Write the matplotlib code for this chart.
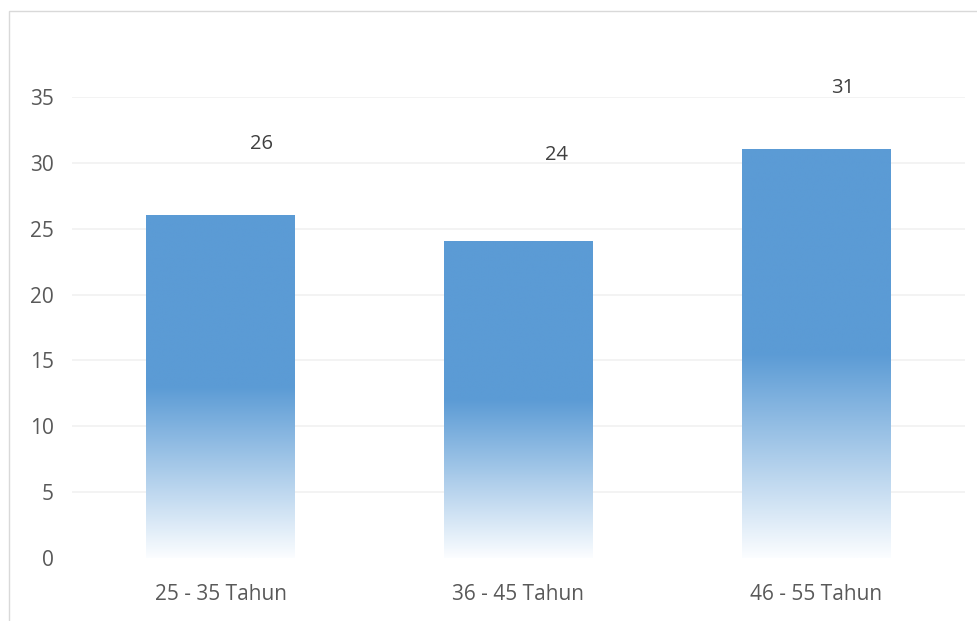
import numpy as np
import matplotlib.pyplot as plt
from matplotlib.colors import LinearSegmentedColormap
from matplotlib.patches import Rectangle

categories = ['25 - 35 Tahun', '36 - 45 Tahun', '46 - 55 Tahun']
values = [26, 24, 31]
yticks = [0, 5, 10, 15, 20, 25, 30, 35]
# Excel placed the value labels a bit off the bars: (dx in category units, y in data units)
label_pos = [(0.135, 31.4), (0.128, 30.6), (0.09, 35.7)]

bar_color = '#5B9BD5'
text_color = '#595959'
plt.rcParams['font.family'] = ['Open Sans', 'DejaVu Sans']

W, H = 978, 621
fig = plt.figure(figsize=(W / 100, H / 100), dpi=100)
ax = fig.add_axes([72 / W, (H - 558) / H, (965 - 72) / W, (558 - 97) / H])

# gradient: white at bottom, solid from half the bar height upward
cmap = LinearSegmentedColormap.from_list('fade', ['#FBFDFF', bar_color])
grad = np.clip(np.linspace(0, 2, 256), 0, 1).reshape(-1, 1)
width = 0.5
for i, v in enumerate(values):
    ax.imshow(grad, cmap=cmap, origin='lower', aspect='auto', interpolation='bilinear',
              extent=[i - width / 2, i + width / 2, 0, v], zorder=2)
    dx, ly = label_pos[i]
    ax.text(i + dx, ly, str(v), ha='center', va='center', fontsize=14.5,
            color='#404040', clip_on=False)

ax.set_xlim(-0.5, len(values) - 0.5)
ax.set_ylim(0, 35)
ax.set_yticks(yticks)
ax.set_xticks(range(len(categories)))
ax.set_xticklabels(categories)
ax.grid(axis='y', color='#F2F2F2', linewidth=1.3, zorder=0)
ax.yaxis.get_gridlines()[0].set_visible(False)
ax.set_axisbelow(True)
for s in ax.spines.values():
    s.set_visible(False)
ax.tick_params(axis='both', length=0, labelsize=15, labelcolor=text_color)
ax.tick_params(axis='y', pad=13)
ax.tick_params(axis='x', pad=19)

fig.patches.append(Rectangle((8.5 / W, -0.1), 1.2, (H - 11) / H + 0.1,
                             transform=fig.transFigure, fill=False,
                             edgecolor='#D9D9D9', linewidth=1.0))

fig.savefig('out.png', dpi=100)
